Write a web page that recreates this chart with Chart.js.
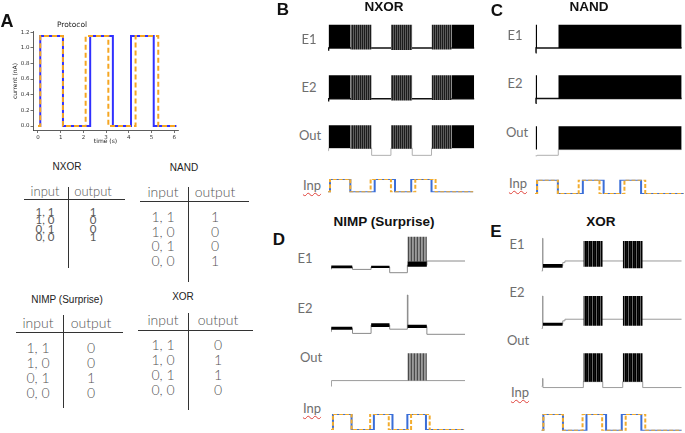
<!DOCTYPE html>
<html><head><meta charset="utf-8">
<script src="https://cdn.jsdelivr.net/npm/chart.js@4.4.1/dist/chart.umd.min.js"></script>
<style>
html,body{margin:0;padding:0;background:#fff;}
#root{position:relative;width:685px;height:433px;overflow:hidden;background:#fff;}
.t{position:absolute;transform:translate(-50%,-50%);white-space:nowrap;line-height:1;}
.letter{font-family:'Liberation Sans',Arial,sans-serif;font-weight:bold;color:#111;}
.ptitle{font-family:'Liberation Sans',Arial,sans-serif;font-weight:bold;font-size:13.5px;color:#111;}
.lab{font-family:Lato,'Open Sans',sans-serif;font-size:13px;color:#6e6e6e;}
.inp{text-decoration:underline wavy #e0413a;text-decoration-thickness:1px;text-underline-offset:2px;}
.tt{font-family:'Liberation Sans',Arial,sans-serif;font-size:10px;color:#222;}
.tx{font-family:Lato,sans-serif;font-weight:300;color:#555;}
.tx.small{font-weight:400;color:#5a5a5a;}
.hl{position:absolute;height:1px;background:#333;}
.vl{position:absolute;width:1px;background:#333;}
</style></head><body><div id="root"></div><script>
// ---------- DATA ----------
// Protocol (panel A): step currents (nA); each value holds until the next time (s)
const blueTimes = [0, 0.1, 1.1, 2.3, 3.3, 4.1, 5.1, 6.1];
const blueCurrent = [0, 1.15, 0, 1.15, 0, 1.15, 0, 0];
const orangeTimes = [0, 0.1, 1.1, 2.1, 3.1, 4.3, 5.3, 6.1];
const orangeCurrent = [0, 1.15, 0, 1.15, 0, 1.15, 0, 0];
const inpEnd = 7.15;
const xTicks = [0, 1, 2, 3, 4, 5, 6];
const yTicks = [0, 0.2, 0.4, 0.6, 0.8, 1.0, 1.2];

// Truth tables
const tableInputs = ['1, 1', '1, 0', '0, 1', '0, 0'];
const nxorOut = ['1', '0', '0', '1'];
const nandOut = ['1', '0', '0', '1'];
const nimpOut = ['0', '0', '1', '0'];
const xorOut = ['0', '1', '1', '0'];

// Voltage traces (mV). Blocks: [tStart, tEnd, top, bottom]; base: [t, v] holding until next t
// B  NXOR
const bE1Tonic = [[0.03, 1.1, 30, -60], [6.1, 7.2, 30, -60]];
const bE1Burst = [[1.1, 2.15, 30, -66], [3.1, 4.15, 30, -68], [5.1, 6.1, 30, -66]];
const bE1Base = [[0, -68], [0.03, -60], [7.2, -60]];
const bE2Tonic = [[0.03, 1.1, 30, -60], [6.1, 7.2, 30, -60]];
const bE2Burst = [[1.1, 2.15, 30, -65], [3.1, 4.15, 30, -67], [5.1, 6.1, 30, -65]];
const bE2Base = [[0, -68], [0.03, -61], [7.2, -61]];
const bOutTonic = [[0.03, 1.1, 30, -58], [6.1, 7.2, 30, -58]];
const bOutBurst = [[1.1, 2.15, 30, -61], [3.1, 4.15, 30, -61], [5.1, 6.1, 30, -61]];
const bOutBase = [[0, -68], [0.03, -58], [2.15, -86], [3.1, -58], [4.15, -86], [5.1, -58], [7.2, -58]];
// C  NAND
const cE1Tonic = [[0.03, 0.1, 30, -60], [1.12, 7.05, 30, -60]];
const cE1Base = [[0.03, -78], [0.05, -60], [1.12, -60], [7.05, -60]];
const cE2Tonic = [[0.03, 0.1, 30, -60], [1.12, 7.05, 30, -60]];
const cE2Base = [[0.03, -78], [0.05, -60], [1.12, -60], [7.05, -60]];
const cOutTonic = [[0.03, 0.1, 30, -60], [1.12, 7.05, 30, -60]];
const cOutBase = [[0.03, -84], [0.1, -82], [1.12, -60], [7.05, -60]];
// D  NIMP (Surprise)
const dE1Bands = [[0, 1.15, -66, -75], [2.15, 3.15, -67, -74], [4.1, 5.15, -52, -70]];
const dE1Burst = [[4.1, 5.15, 30, -52]];
const dE1Base = [[0, -78], [0.02, -71], [1.15, -79], [2.15, -71], [3.15, -90], [4.1, -65], [5.15, -51], [7.2, -51]];
const dE2Bands = [[0, 1.15, -76, -86], [2.15, 3.15, -64, -77], [4.1, 5.15, -69, -80]];
const dE2Base = [[0, -92], [0.02, -81], [1.15, -98], [2.15, -70], [3.15, -84], [4.1, 30], [4.13, -75], [5.15, -101], [7.2, -101]];
const dOutBurst = [[4.1, 5.15, 30, -61]];
const dOutBase = [[0, -80], [0.02, -61], [7.2, -61]];
// E  XOR
const eE1Bands = [[0.08, 1.09, -55, -69]];
const eE1Burst = [[2.14, 3.13, 30, -65], [4.15, 5.17, 30, -71]];
const eE1Base = [[0, -81], [0.06, 40], [0.08, -62], [1.09, -50], [1.2, -44], [7.15, -44]];
const eE2Bands = [[0.08, 1.09, -69, -80]];
const eE2Burst = [[2.14, 3.13, 30, -80], [4.15, 5.17, 30, -80]];
const eE2Base = [[0, -90], [0.06, 30], [0.08, -74], [1.09, -62], [1.2, -56], [7.15, -56]];
const eOutBurst = [[2.14, 3.13, 30, -75], [4.15, 5.17, 30, -75]];
const eOutBase = [[0, -92], [0.06, -63], [0.08, -97], [2.14, -75], [3.13, -97], [4.15, -75], [5.17, -97], [7.15, -97]];

// ---------- DRAWING ----------
const root = document.getElementById('root');
const P = 4;
function txt(s, x, y, cls, size, color) {
  const d = document.createElement('div');
  d.className = 't ' + cls; d.textContent = s;
  d.style.left = x + 'px'; d.style.top = y + 'px';
  if (size) d.style.fontSize = size + 'px';
  if (color) d.style.color = color;
  root.appendChild(d); return d;
}
function line(cls, x, y, len) {
  const d = document.createElement('div'); d.className = cls;
  d.style.left = x + 'px'; d.style.top = y + 'px';
  if (cls === 'hl') d.style.width = len + 'px'; else d.style.height = len + 'px';
  root.appendChild(d);
}
function canvasAt(l, t, w, h) {
  const c = document.createElement('canvas');
  c.width = w; c.height = h;
  c.style.cssText = 'position:absolute;left:' + l + 'px;top:' + t + 'px;width:' + w + 'px;height:' + h + 'px;';
  root.appendChild(c); return c;
}
function baseOpts(xr, yr, pad) {
  return {responsive: false, animation: false, devicePixelRatio: 1, events: [],
    layout: {padding: pad},
    plugins: {legend: {display: false}, tooltip: {enabled: false}, title: {display: false}},
    elements: {point: {radius: 0}, line: {tension: 0}},
    scales: {x: {type: 'linear', display: false, min: xr[0], max: xr[1]},
             y: {type: 'linear', display: false, min: yr[0], max: yr[1]}}};
}
function placeChart(xPx, W, yPx, H, xr, yr, datasets) {
  const cl = Math.floor(xPx - P), ct = Math.floor(yPx - P);
  const cw = Math.ceil(xPx + W + P) - cl, ch = Math.ceil(yPx + H + P) - ct;
  const pad = {left: xPx - cl, top: yPx - ct, right: cw - (xPx - cl) - W, bottom: ch - (yPx - ct) - H};
  const c = canvasAt(cl, ct, cw, ch);
  new Chart(c, {type: 'line', data: {datasets}, options: baseOpts(xr, yr, pad)});
}
function stripe(cols) {
  const c = document.createElement('canvas'); c.width = cols.length; c.height = 4;
  const x = c.getContext('2d');
  cols.forEach((col, i) => { x.fillStyle = col; x.fillRect(i, 0, 1, 4); });
  return x.createPattern(c, 'repeat');
}
const patB = stripe(['#1c1c1c', '#5c5c5c']);
const patD = stripe(['#4a4a4a', '#9a9a9a', '#8a8a8a']);
const patE = stripe(['#000', '#111', '#000', '#666']);

const PAN = {
  B: {x0: 328, pps: 20.3, tMax: 7.25, k: 0.259},
  C: {x0: 535, pps: 20.8, tMax: 7.25, k: 0.259},
  D: {x0: 331.1, pps: 18.6, tMax: 7.25, k: 0.3},
  E: {x0: 541.4, pps: 19.6, tMax: 7.25, k: 0.27}
};
function drawTrace(pn, peakPx, yr, layers, base, bColor, bWidth) {
  const W = pn.tMax * pn.pps;
  const yPx = peakPx - (yr[1] - 30) * pn.k;
  const H = (yr[1] - yr[0]) * pn.k;
  const ds = [];
  layers.forEach(L => L[0].forEach(b => ds.push({
    data: [{x: b[0], y: b[2]}, {x: b[1], y: b[2]}], fill: {value: b[3]},
    backgroundColor: L[1], borderColor: 'rgba(0,0,0,0)', borderWidth: 0, pointRadius: 0})));
  ds.push({data: base.map(p => ({x: p[0], y: p[1]})), stepped: true, fill: false,
    borderColor: bColor, borderWidth: bWidth, pointRadius: 0});
  placeChart(pn.x0, W, yPx, H, [0, pn.tMax], yr, ds);
}
function drawInp(pn, topPx, botPx) {
  const W = pn.tMax * pn.pps, H = botPx - topPx;
  const mk = (ts, vs) => ts.map((t, i) => ({x: t, y: vs[i]})).concat([{x: inpEnd, y: 0}]);
  const ds = [
    {data: mk(orangeTimes, orangeCurrent), stepped: true, fill: false, borderColor: '#f2ac2e', borderWidth: 2, borderDash: [4, 2], pointRadius: 0},
    {data: mk(blueTimes, blueCurrent), stepped: true, fill: false, borderColor: '#3a6ed8', borderWidth: 2, pointRadius: 0}
  ];
  placeChart(pn.x0, W, topPx, H, [0, pn.tMax], [0, 1.15], ds);
}

// ---- Panel A protocol ----
(function () {
  const c = canvasAt(0, 0, 190, 150);
  const mk = (ts, vs) => ts.map((t, i) => ({x: t, y: vs[i]}));
  const tickFont = {family: 'DejaVu Sans', size: 5.5};
  new Chart(c, {type: 'line', data: {datasets: [
      {data: mk(orangeTimes, orangeCurrent), stepped: true, fill: false, borderColor: '#f5a623', borderWidth: 2, borderDash: [5, 3], pointRadius: 0},
      {data: mk(blueTimes, blueCurrent), stepped: true, fill: false, borderColor: '#3030ff', borderWidth: 2, pointRadius: 0}
    ]},
    options: {responsive: false, animation: false, devicePixelRatio: 1, events: [],
      layout: {padding: {top: 31.5, right: 12, left: 0, bottom: 0}},
      plugins: {legend: {display: false}, tooltip: {enabled: false}},
      scales: {
        x: {type: 'linear', min: -0.22, max: 6.17, afterFit: s => { s.height = 19.5; },
          afterBuildTicks: s => { s.ticks = xTicks.map(v => ({value: v})); },
          ticks: {font: tickFont, color: '#333', padding: 1, maxRotation: 0, callback: v => String(v)},
          grid: {drawOnChartArea: false, drawTicks: true, tickLength: 2.5, color: '#333', lineWidth: 0.7},
          border: {display: true, color: '#333', width: 0.8},
          title: {display: true, text: 'time (s)', font: {family: 'DejaVu Sans', size: 6}, color: '#222', padding: {top: 0, bottom: 5.4}}},
        y: {type: 'linear', min: -0.0575, max: 1.2075, afterFit: s => { s.width = 33; },
          afterBuildTicks: s => { s.ticks = yTicks.map(v => ({value: v})); },
          ticks: {font: tickFont, color: '#333', padding: 1, callback: v => Number(v).toFixed(1)},
          grid: {drawOnChartArea: false, drawTicks: true, tickLength: 2.5, color: '#333', lineWidth: 0.7},
          border: {display: true, color: '#333', width: 0.8},
          title: {display: true, text: 'current (nA)', font: {family: 'DejaVu Sans', size: 6}, color: '#222', padding: {top: 11.4, bottom: 0}}}
      }}});
})();
txt('Protocol', 72, 25, '', 7.5, '#222').style.fontFamily = 'DejaVu Sans';

// ---- Letters & titles ----
txt('A', 7, 21, 'letter', 18);
txt('B', 283, 9, 'letter', 17);
txt('C', 497, 10, 'letter', 17);
txt('D', 279, 239, 'letter', 17);
txt('E', 496, 231, 'letter', 17);
txt('NXOR', 384, 7, 'ptitle');
txt('NAND', 589, 7, 'ptitle');
txt('NIMP (Surprise)', 384, 222, 'ptitle');
txt('XOR', 601, 222, 'ptitle');

// ---- Tables ----
function table(title, tX, tY, inX, outX, headY, headSize, hl, vl, row0, step, rowSize, outs, rowCls) {
  txt(title, tX, tY, 'tt');
  txt('input', inX, headY, 'tx', headSize);
  txt('output', outX, headY, 'tx', headSize);
  line('hl', hl[0], hl[2], hl[1] - hl[0]);
  line('vl', vl[0], vl[1], vl[2] - vl[1]);
  tableInputs.forEach((s, i) => {
    txt(s, inX, row0 + i * step, 'tx ' + rowCls, rowSize);
    txt(outs[i], outX, row0 + i * step, 'tx ' + rowCls, rowSize);
  });
}
table('NXOR', 67, 167, 45, 93, 191, 13, [24, 125, 199], [68, 187, 268], 212, 8.4, 11.5, nxorOut, 'small');
table('NAND', 184, 168, 163, 215, 192, 14, [140, 249, 201], [188, 187, 282], 217, 14.7, 14, nandOut, '');
table('NIMP (Surprise)', 67, 300, 38, 91, 323, 14, [16, 123, 332], [63, 315, 408], 348, 15, 14, nimpOut, '');
table('XOR', 183, 297, 163, 218, 320, 14, [138, 253, 330], [188, 313, 410], 345, 15, 14, xorOut, '');

// ---- Row labels ----
[['B', [[309, 39], [309, 87], [310, 135], [312, 185]]],
 ['C', [[515, 35], [515, 83], [517, 132], [518, 183]]],
 ['D', [[305, 258], [305, 308], [311, 357], [312, 408]]],
 ['E', [[517, 244], [517, 292], [518, 340], [520, 392]]]].forEach(([k, pos]) => {
  ['E1', 'E2', 'Out', 'Inp'].forEach((s, i) => {
    const d = txt(s, pos[i][0], pos[i][1], 'lab');
    if (s === 'Inp') d.classList.add('inp');
  });
});

// ---- Panel B ----
drawTrace(PAN.B, 24.7, [-75, 35], [[bE1Burst, patB], [bE1Tonic, '#000']], bE1Base, '#111', 1.5);
drawTrace(PAN.B, 75.3, [-75, 35], [[bE2Burst, patB], [bE2Tonic, '#000']], bE2Base, '#111', 1.5);
drawTrace(PAN.B, 125.3, [-92, 35], [[bOutBurst, patB], [bOutTonic, '#000']], bOutBase, '#b0b0b0', 1);
drawInp(PAN.B, 179, 192.3);
// ---- Panel C ----
drawTrace(PAN.C, 24.7, [-85, 35], [[cE1Tonic, '#000']], cE1Base, '#111', 1.5);
drawTrace(PAN.C, 75.3, [-85, 35], [[cE2Tonic, '#000']], cE2Base, '#111', 1.5);
drawTrace(PAN.C, 126.3, [-90, 35], [[cOutTonic, '#000']], cOutBase, '#b0b0b0', 1);
drawInp(PAN.C, 179.7, 194);
// ---- Panel D ----
drawTrace(PAN.D, 236.7, [-95, 35], [[dE1Burst, patD], [dE1Bands, '#000']], dE1Base, '#8a8a8a', 1);
drawTrace(PAN.D, 295, [-105, 35], [[dE2Bands, '#000']], dE2Base, '#8a8a8a', 1);
drawTrace(PAN.D, 353.3, [-85, 35], [[dOutBurst, patD]], dOutBase, '#9a9a9a', 1);
drawInp(PAN.D, 414, 430);
// ---- Panel E ----
drawTrace(PAN.E, 241, [-85, 45], [[eE1Burst, patE], [eE1Bands, '#000']], eE1Base, '#9a9a9a', 1);
drawTrace(PAN.E, 296, [-95, 35], [[eE2Burst, patE], [eE2Bands, '#000']], eE2Base, '#9a9a9a', 1);
drawTrace(PAN.E, 353.3, [-100, 35], [[eOutBurst, patE]], eOutBase, '#9a9a9a', 1);
drawInp(PAN.E, 414, 430.7);
</script></body></html>
